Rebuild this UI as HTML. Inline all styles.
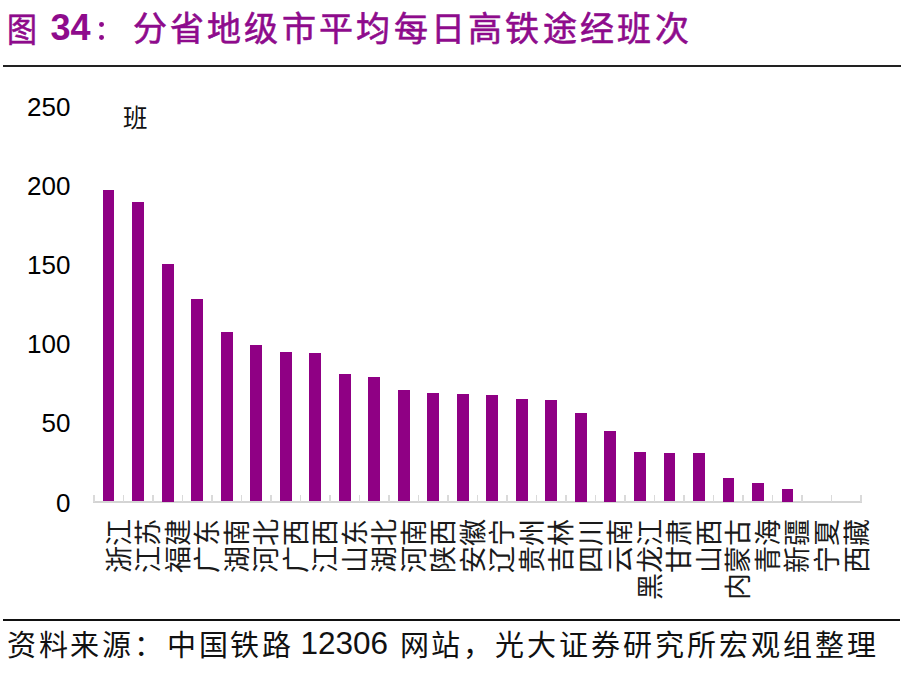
<!DOCTYPE html>
<html lang="zh-CN"><head><meta charset="utf-8"><style>
html,body{margin:0;padding:0;background:#fff;}
body{width:912px;height:675px;position:relative;overflow:hidden;font-family:"Liberation Sans",sans-serif;}
.t{position:absolute;white-space:nowrap;}
.title{color:#8e0b8c;font-family:"Liberation Serif",serif;-webkit-text-stroke:0.6px #8e0b8c;}
.bar{position:absolute;width:11.7px;background:#8f0084;}
.tick{position:absolute;top:495px;width:1.6px;height:7px;background:#dadada;}
.axis{position:absolute;left:93.0px;top:501.3px;width:768.9px;height:1.6px;background:#d4d4d4;}
.xl{position:absolute;top:519px;width:0;height:0;}
.xl span{position:absolute;right:0;top:-13px;font-size:27px;line-height:26px;height:26px;color:#1a1a1a;white-space:nowrap;transform-origin:100% 50%;transform:rotate(-90deg);}
.yl{position:absolute;right:841.5px;font-size:26px;line-height:26px;height:26px;margin-top:-13px;color:#000;text-align:right;}
.hr{position:absolute;background:#222;}
.src{font-family:"Liberation Serif",serif;font-size:29px;line-height:34px;color:#111;}
</style></head><body>
<div class="t title" style="left:7.3px;top:11.5px;font-size:34px;line-height:38px;transform:scaleX(0.88);transform-origin:0 0;">图</div>
<div class="t title" style="left:50.5px;top:8px;font-size:36px;line-height:40px;font-weight:bold;-webkit-text-stroke:0;font-family:'Liberation Sans',sans-serif;">34</div>
<div style="position:absolute;left:98.5px;top:21.6px;width:5.2px;height:5px;border-radius:50%;background:#8e0b8c;"></div>
<div style="position:absolute;left:98.5px;top:35.2px;width:5.2px;height:5px;border-radius:50%;background:#8e0b8c;"></div>
<div class="t title" style="left:132.5px;top:11px;font-size:34px;line-height:38px;letter-spacing:3.3px;">分省地级市平均每日高铁途经班次</div>
<div class="hr" style="left:3px;top:65px;width:898px;height:2.2px;"></div>
<div class="yl" style="top:107.0px">250</div><div class="yl" style="top:186.1px">200</div><div class="yl" style="top:265.2px">150</div><div class="yl" style="top:344.3px">100</div><div class="yl" style="top:423.4px">50</div><div class="yl" style="top:502.5px">0</div>
<div class="t" style="left:123px;top:106.5px;font-size:24.5px;line-height:24.5px;color:#111;">班</div>
<div class="axis"></div>
<div class="tick" style="left:93.00px"></div><div class="tick" style="left:122.51px"></div><div class="tick" style="left:152.02px"></div><div class="tick" style="left:181.53px"></div><div class="tick" style="left:211.04px"></div><div class="tick" style="left:240.55px"></div><div class="tick" style="left:270.06px"></div><div class="tick" style="left:299.57px"></div><div class="tick" style="left:329.08px"></div><div class="tick" style="left:358.59px"></div><div class="tick" style="left:388.10px"></div><div class="tick" style="left:417.61px"></div><div class="tick" style="left:447.12px"></div><div class="tick" style="left:476.63px"></div><div class="tick" style="left:506.14px"></div><div class="tick" style="left:535.65px"></div><div class="tick" style="left:565.16px"></div><div class="tick" style="left:594.67px"></div><div class="tick" style="left:624.18px"></div><div class="tick" style="left:653.69px"></div><div class="tick" style="left:683.20px"></div><div class="tick" style="left:712.71px"></div><div class="tick" style="left:742.22px"></div><div class="tick" style="left:771.73px"></div><div class="tick" style="left:801.24px"></div><div class="tick" style="left:830.75px"></div><div class="tick" style="left:860.26px"></div>
<div class="bar" style="left:102.81px;top:190.2px;height:311.3px"></div><div class="bar" style="left:132.32px;top:201.7px;height:299.8px"></div><div class="bar" style="left:161.83px;top:264.0px;height:237.5px"></div><div class="bar" style="left:191.34px;top:299.4px;height:202.1px"></div><div class="bar" style="left:220.85px;top:331.6px;height:169.9px"></div><div class="bar" style="left:250.36px;top:345.3px;height:156.2px"></div><div class="bar" style="left:279.87px;top:352.2px;height:149.3px"></div><div class="bar" style="left:309.38px;top:353.3px;height:148.2px"></div><div class="bar" style="left:338.88px;top:373.6px;height:127.9px"></div><div class="bar" style="left:368.39px;top:376.6px;height:124.9px"></div><div class="bar" style="left:397.90px;top:389.7px;height:111.8px"></div><div class="bar" style="left:427.41px;top:393.3px;height:108.2px"></div><div class="bar" style="left:456.92px;top:394.2px;height:107.3px"></div><div class="bar" style="left:486.44px;top:395.1px;height:106.4px"></div><div class="bar" style="left:515.95px;top:399.1px;height:102.4px"></div><div class="bar" style="left:545.46px;top:399.7px;height:101.8px"></div><div class="bar" style="left:574.97px;top:412.5px;height:89.0px"></div><div class="bar" style="left:604.48px;top:430.5px;height:71.0px"></div><div class="bar" style="left:633.99px;top:451.6px;height:49.9px"></div><div class="bar" style="left:663.50px;top:453.3px;height:48.2px"></div><div class="bar" style="left:693.00px;top:453.2px;height:48.3px"></div><div class="bar" style="left:722.51px;top:477.5px;height:24.0px"></div><div class="bar" style="left:752.02px;top:483.2px;height:18.3px"></div><div class="bar" style="left:781.53px;top:489.0px;height:12.5px"></div>
<div class="xl" style="left:119.75px"><span>浙江</span></div><div class="xl" style="left:149.27px"><span>江苏</span></div><div class="xl" style="left:178.78px"><span>福建</span></div><div class="xl" style="left:208.28px"><span>广东</span></div><div class="xl" style="left:237.80px"><span>湖南</span></div><div class="xl" style="left:267.31px"><span>河北</span></div><div class="xl" style="left:296.82px"><span>广西</span></div><div class="xl" style="left:326.33px"><span>江西</span></div><div class="xl" style="left:355.84px"><span>山东</span></div><div class="xl" style="left:385.35px"><span>湖北</span></div><div class="xl" style="left:414.86px"><span>河南</span></div><div class="xl" style="left:444.37px"><span>陕西</span></div><div class="xl" style="left:473.88px"><span>安徽</span></div><div class="xl" style="left:503.39px"><span>辽宁</span></div><div class="xl" style="left:532.90px"><span>贵州</span></div><div class="xl" style="left:562.41px"><span>吉林</span></div><div class="xl" style="left:591.92px"><span>四川</span></div><div class="xl" style="left:621.43px"><span>云南</span></div><div class="xl" style="left:650.94px"><span>黑龙江</span></div><div class="xl" style="left:680.45px"><span>甘肃</span></div><div class="xl" style="left:709.96px"><span>山西</span></div><div class="xl" style="left:739.47px"><span>内蒙古</span></div><div class="xl" style="left:768.98px"><span>青海</span></div><div class="xl" style="left:798.49px"><span>新疆</span></div><div class="xl" style="left:828.00px"><span>宁夏</span></div><div class="xl" style="left:857.50px"><span>西藏</span></div>
<div class="hr" style="left:3.4px;top:619.3px;width:897px;height:2px;background:#111;"></div>
<div class="t src" style="left:7px;top:629px;letter-spacing:2.7px;">资料来源：</div>
<div class="t src" style="left:167px;top:629px;letter-spacing:2.7px;">中国铁路</div>
<div class="t src" style="left:300.5px;top:626px;font-size:31.5px;font-family:'Liberation Sans',sans-serif;">12306</div>
<div class="t src" style="left:399.5px;top:629px;letter-spacing:2.93px;">网站，光大证券研究所宏观组整理</div>
</body></html>
